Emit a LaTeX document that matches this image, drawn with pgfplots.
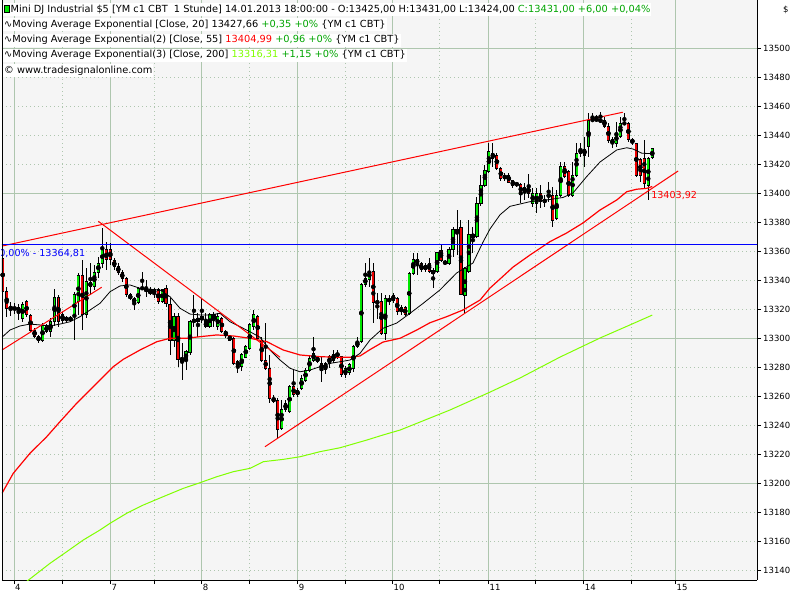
\documentclass[border=0pt]{standalone}
\usepackage{fontspec}
\setmainfont{DejaVu Sans}
\usepackage{pgfplots}
\usepackage{pgfplotstable}
\pgfplotsset{compat=1.18}
\definecolor{plotbg}{RGB}{245,245,245}
\definecolor{gridc}{RGB}{174,198,174}
\definecolor{cgreen}{RGB}{0,230,0}
\definecolor{cred}{RGB}{235,0,0}
\definecolor{lred}{RGB}{255,0,0}
\definecolor{emalime}{RGB}{128,255,0}
\definecolor{hdrgreen}{RGB}{0,165,0}
\definecolor{fibblue}{RGB}{0,0,255}

\pgfplotstableread{
i o h l c
0 13355.5 13357 13331 13332.5
1 13332.5 13336 13315 13321
2 13321.5 13325 13316 13321
3 13321 13324.4 13317 13321
4 13321.5 13324 13313 13318.5
5 13314 13325.6 13311.8 13323.7
6 13325.6 13326.7 13315.2 13316.4
7 13316 13316.8 13304.9 13306
8 13306 13307.2 13300.3 13301.4
9 13301.4 13302.6 13297.3 13298.7
10 13299.1 13310.6 13298 13308.8
11 13304.9 13310 13303.7 13308.8
12 13304.9 13314.1 13301.4 13312.2
13 13311.8 13334 13308.8 13328.6
14 13328.6 13330.2 13308.3 13311.8
15 13312.5 13318.7 13311.1 13316.4
16 13314.8 13316 13311 13312.5
17 13314.8 13315.5 13311.5 13312.5
18 13315.2 13332.5 13299.1 13330.2
19 13325.6 13345.1 13316.4 13343.3
20 13343.3 13354.3 13306 13316.4
21 13316.4 13348.6 13314.1 13339.4
22 13338.9 13352 13330.2 13335.9
23 13335.9 13350.9 13333.6 13345.6
24 13345.6 13356.6 13341.7 13352
25 13352 13376.2 13348.6 13361.2
26 13361.2 13367 13347.4 13354.3
27 13361.2 13366.3 13350.9 13354.3
28 13353.9 13355.5 13347.4 13349.7
29 13349.7 13352 13344 13345.8
30 13345.6 13347.4 13339.4 13341.7
31 13341.7 13342.8 13329 13330.2
32 13330.2 13331.3 13326.7 13327.4
33 13327.9 13329 13319.8 13324.9
34 13324.9 13335.9 13324 13334.8
35 13334.8 13346.3 13333.6 13334.8
36 13334.8 13340.5 13329 13332.5
37 13333.6 13335.9 13330.2 13330.9
38 13333.6 13335 13328 13331.8
39 13333.6 13334.8 13324 13325.6
40 13325.6 13334.5 13324.4 13333.6
41 13334.3 13337 13322.1 13324.4
42 13323.3 13327.9 13288.8 13299.1
43 13299.1 13317.5 13294.5 13315.2
44 13315.2 13317.5 13280.7 13285.8
45 13286.5 13296.8 13271.5 13285.3
46 13285.3 13292.2 13278.4 13291.1
47 13290.4 13312.9 13288.8 13312.2
48 13311.8 13330.2 13308.3 13312.9
49 13311.8 13317.5 13301.4 13314.1
50 13313 13327.9 13310.6 13315.2
51 13308.3 13317.5 13307.2 13311.8
52 13308.3 13317.5 13307.2 13316.4
53 13316.4 13318.7 13308.3 13314.1
54 13308.3 13317.5 13306 13315.2
55 13314.1 13315.2 13303.7 13304.9
56 13304.9 13306 13300.3 13302.6
57 13301.4 13302.6 13298.7 13299.1
58 13300.3 13301.4 13281.9 13283
59 13284.2 13285.3 13276.1 13281.2
60 13280.7 13289.9 13278 13288.8
61 13287.2 13295.7 13286.5 13294.5
62 13293.4 13310.6 13292.2 13309.5
63 13308.3 13319.8 13306 13316.4
64 13315.2 13316.4 13299.1 13300.3
65 13299.1 13301.4 13284.2 13285.3
66 13285.3 13310.6 13278.4 13279.6
67 13279.6 13288.8 13255.4 13258.9
68 13258.9 13261.2 13255.4 13256.6
69 13257.7 13258.9 13231.3 13237.1
70 13238.2 13257.7 13237.1 13250.9
71 13250.9 13257.7 13249.7 13255.4
72 13249.7 13268.1 13248.5 13266.9
73 13266.9 13278.4 13260 13261.2
74 13264 13265.8 13260 13261.2
75 13265.8 13275 13264.6 13272.7
76 13271.5 13279.6 13270.4 13278.4
77 13278.4 13288.8 13277.3 13286.5
78 13285.3 13301.4 13284.2 13289.9
79 13287 13288 13283 13284.5
80 13283 13287.6 13270.4 13278.4
81 13283 13284 13276 13278.9
82 13283 13289 13280 13287.6
83 13285.3 13292 13283 13288.8
84 13288.1 13292.2 13286 13289.9
85 13287.6 13288.1 13273.8 13275
86 13275 13281 13272.7 13279.6
87 13276.6 13283.5 13275 13281.9
88 13279.6 13295.7 13277.3 13294.5
89 13294.5 13301.4 13293.3 13297.9
90 13297.9 13338.2 13296.8 13337.7
91 13337.7 13352.4 13335.9 13341.6
92 13340.9 13355.4 13335.9 13346.7
93 13346.7 13352 13310.6 13324.8
94 13325.5 13331.3 13313.3 13324.8
95 13325.5 13331.3 13302.5 13303.7
96 13303.7 13330.1 13299.1 13327.8
97 13327.8 13330.1 13323.2 13325.5
98 13326.2 13331.3 13324.4 13330.1
99 13327.8 13328.9 13316.3 13318.6
100 13318.6 13323.2 13316.3 13321.4
101 13321.4 13322.5 13315.6 13316.8
102 13317.5 13346.2 13316.3 13345.1
103 13345.1 13358.8 13343.9 13354.7
104 13354.7 13358.8 13343.9 13352
105 13352 13353.2 13346.2 13347.4
106 13347.4 13352 13346.2 13350.8
107 13352 13355.4 13345.1 13346.2
108 13346.7 13348.5 13334.7 13345.1
109 13346.2 13360 13345.1 13359.3
110 13361.1 13364.6 13353.2 13353.8
111 13352.4 13354.3 13350.8 13352.4
112 13352 13363.4 13350.8 13361.6
113 13361.6 13377.2 13356.5 13375.4
114 13375 13388.7 13357.7 13373
115 13376.8 13381.8 13330.1 13330.8
116 13330.1 13349.6 13317.5 13348.5
117 13346.2 13381.8 13345.1 13372.2
118 13372.2 13377.2 13358.8 13369.9
119 13370.3 13397.9 13369.2 13393.3
120 13393.3 13412.9 13391.5 13406
121 13406 13419.8 13404.8 13416.3
122 13415.2 13434.7 13414 13429
123 13424.4 13434.7 13418.6 13427.8
124 13426.7 13427.8 13416.3 13417.5
125 13417.5 13418.7 13408.8 13410.2
126 13410.2 13414.1 13408.8 13412.9
127 13412.9 13414.1 13407.2 13407.9
128 13408.8 13409.5 13404.2 13406
129 13406.5 13408.3 13404.9 13406.5
130 13406.5 13407.2 13393.4 13399.6
131 13401 13407.2 13395.7 13404.2
132 13404.2 13413.4 13396.8 13400.3
133 13393.4 13403.7 13391.1 13400.3
134 13393.4 13403.7 13386.5 13400.3
135 13400.3 13406 13389.9 13394.5
136 13395 13399 13391.1 13395
137 13397.8 13408.3 13394.5 13399.6
138 13399.1 13404.8 13377.2 13381.8
139 13383 13402.5 13381.8 13399.1
140 13399.1 13422.1 13397.9 13418.6
141 13418.6 13422.1 13410.6 13411.7
142 13415.2 13416.3 13397.9 13399.1
143 13399.1 13422.1 13397.9 13412.9
144 13412.9 13434.7 13411.7 13427.8
145 13427.8 13434.7 13425.5 13430.6
146 13430.6 13439.3 13418.6 13426.7
147 13432.4 13455.4 13425.5 13450.8
148 13450.8 13455.4 13449.7 13450.8
149 13451 13454.3 13450.3 13451.3
150 13450.8 13456.6 13449.7 13450
151 13450.8 13453.1 13445.1 13446.2
152 13446.2 13448.5 13434.7 13437
153 13437.4 13439.3 13431.3 13434.7
154 13434.7 13449.7 13432.4 13441.6
155 13439.3 13453.1 13438.2 13448.5
156 13448.5 13455.4 13447.4 13448.5
157 13448.5 13449.7 13435.9 13437.5
158 13437.5 13438.2 13433.6 13435.2
159 13434.7 13435.2 13411.7 13412.9
160 13423.7 13424.4 13408.3 13412.9
161 13424.4 13437 13403.7 13407.1
162 13406 13425.1 13395.6 13424.4
163 13425 13431 13424 13431
}\candles

\begin{document}
\begin{tikzpicture}[x=1pt,y=1pt]
\fill[white] (0,0) rectangle (800,600);
\useasboundingbox (0,0) rectangle (800,600);
\begin{axis}[
  at={(2pt,20pt)}, anchor=south west,
  scale only axis, width=755pt, height=580pt,
  xmin=-0.176, xmax=189.28, ymin=13133.6, ymax=13533.6,
  axis background/.style={fill=plotbg},
  axis x line*=bottom, axis y line*=right,
  axis line style={black, line width=1pt},
  tick align=outside, major tick length=4pt,
  tick style={black, line width=1pt},
  scaled y ticks=false,
  xtick={14.96,38.0,61.9,85.9,109.7,133.8,157.7}, xticklabels={},
  extra x ticks={2.84,27.0,49.9,74.0,97.8,121.9,145.8,168.8},
  extra x tick labels={4,7,8,9,10,11,14,15},
  extra x tick style={grid=major, major grid style={gridc, solid, line width=1pt}},
  xmajorgrids, ymajorgrids,
  major grid style={gridc, line width=1pt, dash pattern=on 1pt off 3pt},
  ytick={13140,13160,...,13500},
  yticklabel={\pgfmathprintnumber[fixed,precision=0,1000 sep={}]{\tick}},
  extra y ticks={13200,13300,13400,13500}, extra y tick labels={},
  extra y tick style={grid=major, major grid style={gridc, solid, line width=1pt}, major tick length=0pt},
  yticklabel style={anchor=west, inner sep=0pt, xshift=2pt, font=\fontsize{8.5}{10}\selectfont},
  xticklabel style={anchor=north west, inner sep=0pt, xshift=1pt, font=\fontsize{8.5}{10}\selectfont},
  /pgf/number format/1000 sep={},
  /pgf/number format/assume math mode=true,
]
% wicks
\addplot[only marks, mark=none, forget plot,
  error bars/.cd, y dir=both, y explicit, error mark=none,
  error bar style={black, line width=1pt, solid}]
  table[x=i, y expr={0.5*(\thisrow{h}+\thisrow{l})}, y error expr={0.5*(\thisrow{h}-\thisrow{l})}] {\candles};
% body outlines
\addplot[only marks, mark=none, forget plot,
  error bars/.cd, y dir=both, y explicit, error mark=none,
  error bar style={black, line width=3.2pt, solid}]
  table[x=i, y expr={0.5*(\thisrow{o}+\thisrow{c})}, y error expr={0.5*abs(\thisrow{c}-\thisrow{o})+0.35}] {\candles};
% green bodies
\addplot[only marks, mark=none, forget plot, restrict y to domain=13000:14000,
  error bars/.cd, y dir=both, y explicit, error mark=none,
  error bar style={cgreen, line width=1.9pt, solid}]
  table[x=i, y expr={\thisrow{c}>\thisrow{o} ? 0.5*(\thisrow{o}+\thisrow{c}) : 0}, y error expr={max(0.5*abs(\thisrow{c}-\thisrow{o})-0.35,0)}] {\candles};
% red bodies
\addplot[only marks, mark=none, forget plot, restrict y to domain=13000:14000,
  error bars/.cd, y dir=both, y explicit, error mark=none,
  error bar style={cred, line width=1.9pt, solid}]
  table[x=i, y expr={\thisrow{c}<\thisrow{o} ? 0.5*(\thisrow{o}+\thisrow{c}) : 0}, y error expr={max(0.5*abs(\thisrow{c}-\thisrow{o})-0.35,0)}] {\candles};

% EMA 200
\addplot[emalime, line width=1pt] coordinates {
(4.8,13130) (11.87,13145.1) (16.06,13153.1) (20.23,13161.2) (24.42,13168.1) (26.93,13172.7) (31.12,13179.6) (35.28,13185.3) (40.30,13191.1) (45.32,13196.8) (49.51,13200.7) (53.70,13204.8) (57.87,13208.3) (62.06,13210.6) (65.40,13215.2) (70.42,13216.8) (74.61,13218.6) (79.62,13222.1) (84.64,13224.8) (91.34,13230.1) (95.43,13233.6) (99.70,13237.0) (112.2,13250.8) (122.3,13263.2) (129.8,13272.9) (139.9,13287.4) (149.9,13300.5) (157.4,13309.5) (163,13316.3)};
% EMA 55
\addplot[lred, line width=1.2pt] coordinates {
(-0.18,13193.4) (2.66,13207.2) (6.85,13221.0) (11.04,13232.4) (14.38,13242.8) (18.57,13255.5) (23.59,13269.3) (27.75,13280.7) (30.26,13285.8) (34.45,13292.2) (38.64,13297.9) (41.98,13300.3) (46.17,13300.3) (49.51,13301.4) (53.70,13302.6) (57.87,13301.9) (62.06,13300.3) (66.25,13298.0) (70.41,13292.2) (74.61,13288.8) (79.62,13287.6) (84.64,13287.2) (87.15,13287.2) (89.66,13288.1) (92.17,13292.5) (95.43,13297.7) (99.70,13300.3) (103.9,13306.0) (107.2,13311.0) (111.4,13315.2) (115.5,13319.8) (119.8,13326.7) (122.3,13335.0) (124.8,13341.2) (128.1,13349.5) (132.3,13357.7) (137.3,13366.9) (141.5,13372.9) (145.6,13379.8) (149.9,13388.8) (154.1,13395.7) (156.6,13401.4) (159.1,13403.1) (161.6,13403.7) (163,13405.0)};
% EMA 20
\addplot[black, line width=0.8pt] coordinates {
(-0.18,13301.0) (1.83,13306.0) (4.34,13308.8) (6.85,13310.1) (9.36,13309.5) (11.87,13308.8) (14.38,13310.1) (16.89,13311.7) (19.40,13315.2) (21.91,13319.8) (24.42,13324.4) (26.93,13332.4) (29.43,13336.4) (31.94,13337.1) (34.45,13334.8) (36.96,13334.1) (39.47,13333.6) (41.98,13329.0) (44.49,13321.0) (47.0,13317.0) (49.51,13316.4) (52.02,13316.4) (54.53,13317.5) (57.04,13311.7) (59.55,13308.3) (62.06,13304.8) (64.57,13301.0) (67.08,13292.2) (69.59,13285.3) (72.1,13279.6) (74.61,13277.2) (77.12,13278.4) (79.63,13280.7) (82.13,13283.0) (84.64,13284.1) (87.15,13285.3) (89.66,13289.9) (92.17,13299.1) (95.43,13307.2) (98.87,13310.8) (102.2,13317.5) (105.5,13324.4) (109.7,13333.6) (113.9,13345.3) (118.0,13352.2) (120.5,13366.5) (122.3,13375.8) (124.8,13385.5) (127.3,13391.3) (132.3,13394.5) (136.5,13395.7) (140.6,13397.4) (143.1,13400.5) (146.5,13411.7) (149.9,13421.9) (154.1,13430.2) (156.6,13431.7) (158.2,13430.8) (160.4,13427.9) (163,13427.66)};
% trend lines
\addplot[lred, line width=1pt] coordinates {(-0.18,13363.9) (155.6,13456.2)};
\addplot[lred, line width=1pt] coordinates {(24.0,13381.0) (69.6,13287.2)};
\addplot[lred, line width=1pt] coordinates {(65.8,13225.5) (169.5,13415.7)};
\addplot[lred, line width=1pt] coordinates {(-0.18,13292.2) (24.84,13335.5)};
% horizontal level
\addplot[fibblue, line width=1pt] coordinates {(-1,13364.81) (190,13364.81)};
\node[anchor=west, text=fibblue, inner sep=0pt, font=\fontsize{9.6}{11}\selectfont] at (axis cs:-0.9,13358.6) {0,00\% - 13364,81};
\node[anchor=west, text=lred, inner sep=0pt, font=\fontsize{9.6}{11}\selectfont] at (axis cs:162.7,13398.6) {13403,92};
\end{axis}
\draw[black, line width=1pt] (2,20) -- (2,600);
\node[anchor=west, inner sep=0pt, font=\fontsize{8.5}{10}\selectfont] at (783,590) {\$};
\setlength{\fboxsep}{0pt}
\begin{scope}[every node/.style={anchor=west, inner xsep=1pt, inner ysep=1.5pt, fill=white, font=\fontsize{9.8}{11}\selectfont, text height=7.5pt, text depth=2.5pt}]
\node at (3,590) {\fcolorbox{black}{cgreen}{\rule{0pt}{7pt}\hspace{4pt}}\,Mini DJ Industrial \$5 [YM c1 CBT~~1 Stunde] 14.01.2013 18:00:00 - O:13425,00 H:13431,00 L:13424,00 \textcolor{hdrgreen}{C:13431,00 +6,00 +0,04\%}};
\node at (3,575) {∿Moving Average Exponential [Close, 20] 13427,66 \textcolor{hdrgreen}{+0,35 +0\%} \{YM c1 CBT\}};
\node at (3,559.5) {∿Moving Average Exponential(2) [Close, 55] \textcolor{lred}{13404,99} \textcolor{hdrgreen}{+0,96 +0\%} \{YM c1 CBT\}};
\node at (3,544.5) {∿Moving Average Exponential(3) [Close, 200] \textcolor{emalime}{13316,31} \textcolor{hdrgreen}{+1,15 +0\%} \{YM c1 CBT\}};
\node at (3,529) {© www.tradesignalonline.com};
\end{scope}
\end{tikzpicture}
\end{document}
